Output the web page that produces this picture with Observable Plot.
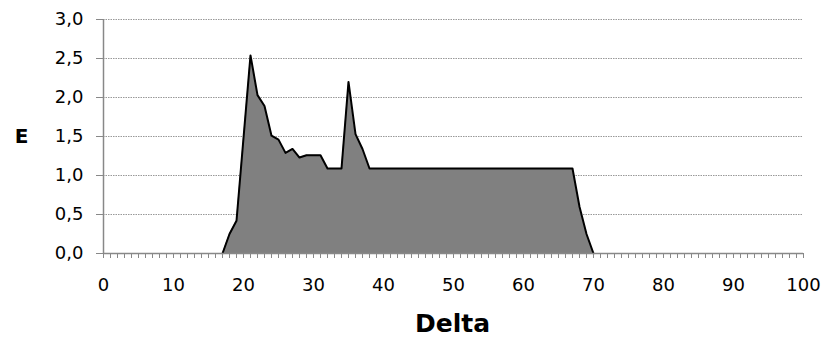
<!DOCTYPE html>
<html>
<head>
<meta charset="utf-8">
<script src="https://cdn.jsdelivr.net/npm/d3@7"></script>
<script src="https://cdn.jsdelivr.net/npm/@observablehq/plot@0.6"></script>
<style>
  body { margin: 0; background: #fff; }
  svg { font-family: "DejaVu Sans", Verdana, sans-serif; }
  g[aria-label="y-axis tick label"] text, g[aria-label="x-axis tick label"] text { font-size: 18px; }
</style>
</head>
<body>
<div id="chart"></div>
<script>
const delta = [17, 18, 19, 21, 22, 23, 24, 25, 26, 27, 28, 29, 31, 32, 34, 35, 36, 37, 38, 67, 68, 69, 70];
const eVals = [0, 0.25, 0.42, 2.54, 2.03, 1.89, 1.51, 1.46, 1.29, 1.34, 1.23, 1.26, 1.26, 1.09, 1.09, 2.20, 1.53, 1.34, 1.09, 1.09, 0.60, 0.25, 0];
const yTicks = [0, 0.5, 1, 1.5, 2, 2.5, 3];
const xTicks = [0, 10, 20, 30, 40, 50, 60, 70, 80, 90, 100];
const xMinorTicks = d3.range(0, 101, 1);

const data = delta.map((d, i) => ({delta: d, e: eVals[i]}));
const fmt = d => d.toFixed(1).replace(".", ",");

const chart = Plot.plot({
  width: 824,
  height: 338,
  marginLeft: 103,
  marginRight: 21,
  marginTop: 19,
  marginBottom: 85,
  style: {fontFamily: "'DejaVu Sans', Verdana, sans-serif", fontSize: "18px", color: "#000", background: "#fff"},
  x: {domain: [0, 100]},
  y: {domain: [0, 3]},
  marks: [
    Plot.ruleY(yTicks.filter(d => d > 0), {stroke: "#999", strokeWidth: 1, strokeDasharray: "1.5,1"}),
    Plot.areaY(data, {x: "delta", y: "e", fill: "#808080"}),
    Plot.lineY(data, {x: "delta", y: "e", stroke: "#000", strokeWidth: 2}),
    Plot.axisY({ticks: yTicks, tickFormat: fmt, tickSize: 7, tickPadding: 13, stroke: "#888", label: null, fill: "#000"}),
    Plot.ruleX([0], {stroke: "#888", strokeWidth: 1.5}),
    Plot.ruleY([0], {stroke: "#888", strokeWidth: 1.5}),
    Plot.axisX({ticks: xMinorTicks, tickFormat: () => "", tickSize: 5, stroke: "#888", label: null}),
    Plot.axisX({ticks: xTicks, tickSize: 0, tickPadding: 25, label: null, fill: "#000"}),
    Plot.text(["E"], {frameAnchor: "left", textAnchor: "middle", dx: -82, dy: 0, fontSize: 20, fontWeight: "bold", fill: "#000"}),
    Plot.text(["Delta"], {frameAnchor: "bottom", textAnchor: "middle", dx: -1, dy: 78, fontSize: 25, fontWeight: "bold", fill: "#000"})
  ]
});
document.getElementById("chart").appendChild(chart);
</script>
</body>
</html>
